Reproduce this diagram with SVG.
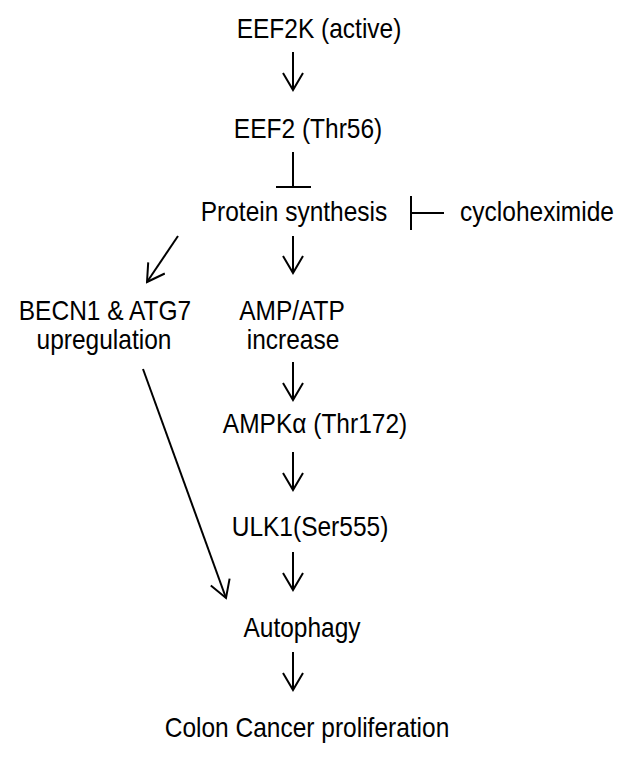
<svg xmlns="http://www.w3.org/2000/svg" width="633" height="760" viewBox="0 0 633 760">
<style>
text{font-family:"Liberation Sans",Arial,sans-serif;font-size:24.5px;fill:#000;text-anchor:middle}
.c{stroke:#000;stroke-width:2;fill:none;stroke-linecap:butt}
</style>
<defs>
<marker id="ah" viewBox="-18 -11 20 22" markerWidth="20" markerHeight="22" refX="0" refY="0" orient="auto" markerUnits="userSpaceOnUse">
<path d="M-17,-10 L0,0 L-17,10" fill="none" stroke="#000" stroke-width="2"/>
</marker>
</defs>
<rect width="633" height="760" fill="#fff"/>
<g id="n1"><text transform="translate(319,38) scale(1,1.1)">EEF2K (active)</text></g>
<g id="n2"><text transform="translate(308,138) scale(1,1.1)">EEF2 (Thr56)</text></g>
<g id="n3"><text transform="translate(294,221) scale(1,1.1)">Protein synthesis</text></g>
<g id="n4"><text transform="translate(537,221) scale(1,1.1)">cycloheximide</text></g>
<g id="n5"><text transform="translate(105,320) scale(1,1.1)">BECN1 &amp; ATG7</text><text transform="translate(104,349) scale(1,1.1)">upregulation</text></g>
<g id="n6"><text transform="translate(292,320) scale(1,1.1)">AMP/ATP</text><text transform="translate(293,349) scale(1,1.1)">increase</text></g>
<g id="n7"><text transform="translate(315,433) scale(1,1.1)">AMPKα (Thr172)</text></g>
<g id="n8"><text transform="translate(310,536) scale(1,1.1)">ULK1(Ser555)</text></g>
<g id="n9"><text transform="translate(302,637) scale(1,1.1)">Autophagy</text></g>
<g id="n10"><text transform="translate(307,737) scale(1,1.1)">Colon Cancer proliferation</text></g>
<g id="connectors" class="c">
<path d="M293,52 V90" marker-end="url(#ah)"/>
<path d="M293,152 V187 M276,187 H311"/>
<path d="M411,196 V230 M411,213 H444"/>
<path d="M178,236 L147,282" marker-end="url(#ah)"/>
<path d="M293,236 V273" marker-end="url(#ah)"/>
<path d="M143,369 L226,598" marker-end="url(#ah)"/>
<path d="M293,362 V400" marker-end="url(#ah)"/>
<path d="M293,452 V490" marker-end="url(#ah)"/>
<path d="M293,552 V590" marker-end="url(#ah)"/>
<path d="M293,652 V690" marker-end="url(#ah)"/>
</g>
</svg>
